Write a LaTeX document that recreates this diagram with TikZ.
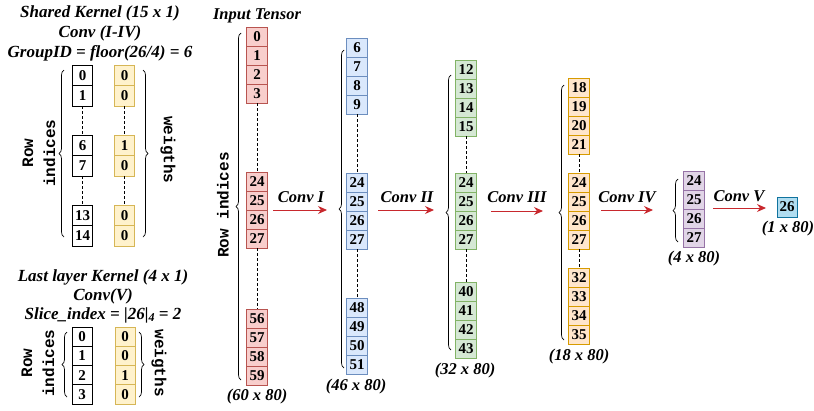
\documentclass[tikz,border=0pt]{standalone}
\usepackage{fontspec}
\setmainfont{Liberation Serif}
\setmonofont{Liberation Mono}
\usetikzlibrary{decorations.pathreplacing,arrows.meta}

\definecolor{redF}{HTML}{F8CECC}\definecolor{redD}{HTML}{B85450}
\definecolor{bluF}{HTML}{DAE8FC}\definecolor{bluD}{HTML}{6C8EBF}
\definecolor{grnF}{HTML}{D5E8D4}\definecolor{grnD}{HTML}{82B366}
\definecolor{orgF}{HTML}{FFE6CC}\definecolor{orgD}{HTML}{D79B00}
\definecolor{purF}{HTML}{E1D5E7}\definecolor{purD}{HTML}{9673A6}
\definecolor{ylwF}{HTML}{FFF2CC}\definecolor{ylwD}{HTML}{D6B656}
\definecolor{cyaF}{HTML}{B1DDF0}\definecolor{cyaD}{HTML}{10739E}
\definecolor{arrowred}{HTML}{C8282D}

\tikzset{
  cellbox/.style={draw, line width=0.8pt, minimum width=21pt, minimum height=19pt,
    inner sep=0pt, font=\fontsize{15}{15}\selectfont\bfseries},
  redcell/.style={cellbox, fill=redF, draw=redD},
  blucell/.style={cellbox, fill=bluF, draw=bluD},
  grncell/.style={cellbox, fill=grnF, draw=grnD},
  orgcell/.style={cellbox, fill=orgF, draw=orgD},
  purcell/.style={cellbox, fill=purF, draw=purD},
  cyacell/.style={cellbox, fill=cyaF, draw=cyaD, minimum width=20pt, minimum height=20pt},
  idxcell/.style={cellbox, fill=white, draw=black, minimum width=20pt},
  wgtcell/.style={cellbox, fill=ylwF, draw=ylwD, minimum width=20pt},
  gapline/.style={densely dashed, line width=0.6pt},
  bracket/.style={decorate, decoration={brace, amplitude=5pt}, line width=0.7pt},
  convarrow/.style={draw=arrowred, line width=1pt, -{Stealth[length=9pt,width=8pt]}},
  label/.style={font=\fontsize{16.5}{18}\selectfont\bfseries\itshape, inner sep=0pt},
  title/.style={font=\fontsize{17}{19}\selectfont\bfseries\itshape, inner sep=0pt},
  monolabel/.style={font=\fontsize{16}{22}\selectfont\ttfamily\bfseries, align=center, inner sep=0pt},
}

% one group of four feature-map rows: style, x, name prefix, top y, first index
\newcommand{\rowgroup}[5]{%
  \foreach \k in {0,1,2,3}{
    \pgfmathtruncatemacro{\idx}{#5+\k}
    \node[#1] (#3\idx) at (#2, #4+9.5+19*\k) {\idx};
  }
}

\begin{document}
\begin{tikzpicture}[x=1pt, y=-1pt]
\useasboundingbox (0,0) rectangle (814,410);

% ---------- Input tensor (red)
\node[label] (intitle) at (257,16) {Input Tensor};
\rowgroup{redcell}{257}{in}{27}{0}
\rowgroup{redcell}{257}{in}{172}{24}
\rowgroup{redcell}{257}{in}{309}{56}
\draw[gapline] (in3.south) -- (in24.north);
\draw[gapline] (in27.south) -- (in56.north);
\coordinate (inbt) at (241,33);
\coordinate (inbb) at (241,380);
\draw[bracket] (inbb) -- (inbt);
\node[monolabel, rotate=90] (inrow) at (223,205) {Row indices};
\node[label] (insize) at (257,397) {(60 x 80)};

% ---------- after Conv I (blue)
\rowgroup{blucell}{357}{c1}{38}{6}
\rowgroup{blucell}{357}{c1}{173}{24}
\rowgroup{blucell}{357}{c1}{298}{48}
\draw[gapline] (c19.south) -- (c124.north);
\draw[gapline] (c127.south) -- (c148.north);
\coordinate (c1bt) at (344,50);
\coordinate (c1bb) at (344,368);
\draw[bracket] (c1bb) -- (c1bt);
\node[label] (c1size) at (356,387) {(46 x 80)};

% ---------- after Conv II (green)
\rowgroup{grncell}{466}{c2}{60}{12}
\rowgroup{grncell}{466}{c2}{173}{24}
\rowgroup{grncell}{466}{c2}{282}{40}
\draw[gapline] (c215.south) -- (c224.north);
\draw[gapline] (c227.south) -- (c240.north);
\coordinate (c2bt) at (451,75);
\coordinate (c2bb) at (451,350);
\draw[bracket] (c2bb) -- (c2bt);
\node[label] (c2size) at (465,371) {(32 x 80)};

% ---------- after Conv III (orange)
\rowgroup{orgcell}{579}{c3}{78}{18}
\rowgroup{orgcell}{579}{c3}{173}{24}
\rowgroup{orgcell}{579}{c3}{268}{32}
\draw[gapline] (c321.south) -- (c324.north);
\draw[gapline] (c327.south) -- (c332.north);
\coordinate (c3bt) at (564,85);
\coordinate (c3bb) at (564,340);
\draw[bracket] (c3bb) -- (c3bt);
\node[label] (c3size) at (579,357) {(18 x 80)};

% ---------- after Conv IV (purple)
\rowgroup{purcell}{694}{c4}{171}{24}
\coordinate (c4bt) at (678,179);
\coordinate (c4bb) at (678,242);
\draw[bracket] (c4bb) -- (c4bt);
\node[label] (c4size) at (694,259) {(4 x 80)};

% ---------- output row
\node[cyacell] (out) at (787,207) {26};
\node[label] (outsize) at (788,229) {(1 x 80)};

% ---------- convolution arrows
\coordinate (a1s) at (273,210); \coordinate (a1e) at (327,210);
\coordinate (a2s) at (378,210); \coordinate (a2e) at (434,210);
\coordinate (a3s) at (491,211); \coordinate (a3e) at (543,211);
\coordinate (a4s) at (601,210); \coordinate (a4e) at (653,210);
\coordinate (a5s) at (713,208); \coordinate (a5e) at (766,208);
\draw[convarrow] (a1s) -- (a1e);
\draw[convarrow] (a2s) -- (a2e);
\draw[convarrow] (a3s) -- (a3e);
\draw[convarrow] (a4s) -- (a4e);
\draw[convarrow] (a5s) -- (a5e);
\node[label] (l1) at (301,197) {Conv I};
\node[label] (l2) at (407,197) {Conv II};
\node[label] (l3) at (517,197) {Conv III};
\node[label] (l4) at (627,197) {Conv IV};
\node[label] (l5) at (739,196) {Conv V};

% ---------- shared kernel (Conv I-IV)
\node[title] (k1t1) at (100,13) {Shared Kernel (15 x 1)};
\node[title] (k1t2) at (100,33) {Conv (I-IV)};
\node[title] (k1t3) at (100,53) {GroupID = floor(26/4) = 6};
\foreach \i/\w/\y in {0/0/75.25, 1/0/95.75, 6/1/145.25, 7/0/165.75, 13/0/215.25, 14/0/235.75}{
  \node[idxcell, minimum height=20.5pt] (ki\i) at (82.5,\y) {\i};
  \node[wgtcell, minimum height=20.5pt] (kw\i) at (124.5,\y) {\w};
}
\draw[gapline] (ki1.south) -- (ki6.north);
\draw[gapline] (ki7.south) -- (ki13.north);
\draw[gapline] (kw1.south) -- (kw6.north);
\draw[gapline] (kw7.south) -- (kw13.north);
\coordinate (kbl1) at (64,70); \coordinate (kbl2) at (64,237);
\coordinate (kbr1) at (143,70); \coordinate (kbr2) at (143,237);
\draw[bracket] (kbl2) -- (kbl1);
\draw[bracket] (kbr1) -- (kbr2);
\node[monolabel, rotate=90] (krow) at (39,153) {Row\\indices};
\node[monolabel, rotate=-90] (kwt) at (168,150) {weigths};

% ---------- last layer kernel (Conv V)
\node[title] (k2t1) at (103,277) {Last layer Kernel (4 x 1)};
\node[title] (k2t2) at (103,296) {Conv(V)};
\node[title] (k2t3) at (103,315) {Slice\_index = |26|\raisebox{-0.35ex}{\fontsize{12}{12}\selectfont 4} = 2};
\foreach \i/\w in {0/0, 1/0, 2/1, 3/0}{
  \node[idxcell, minimum height=19.3pt] (li\i) at (82,336.6+19.3*\i) {\i};
  \node[wgtcell, minimum height=19.3pt] (lw\i) at (125,336.6+19.3*\i) {\w};
}
\coordinate (lbl1) at (67,332); \coordinate (lbl2) at (67,397);
\coordinate (lbr1) at (139,332); \coordinate (lbr2) at (139,397);
\draw[bracket] (lbl2) -- (lbl1);
\draw[bracket] (lbr1) -- (lbr2);
\node[monolabel, rotate=90] (lrow) at (38,363) {Row\\indices};
\node[monolabel, rotate=-90] (lwt) at (159,363) {weigths};
\end{tikzpicture}
\end{document}
